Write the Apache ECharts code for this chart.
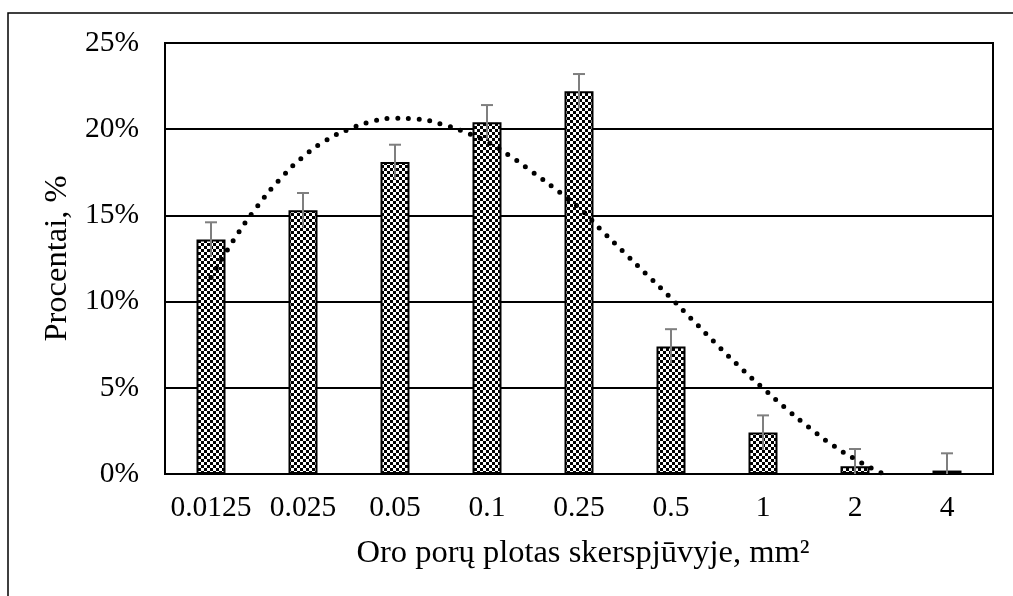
<!DOCTYPE html>
<html>
<head>
<meta charset="utf-8">
<script src="https://cdn.jsdelivr.net/npm/echarts@6/dist/echarts.min.js"></script>
<style>
  html, body { margin: 0; padding: 0; background: #fff; }
  #chart { width: 1013px; height: 596px; }
</style>
</head>
<body>
<div id="chart"></div>
<script>
// Pore area classes (mm²) and share of pores in each class, %
const categories = ['0.0125', '0.025', '0.05', '0.1', '0.25', '0.5', '1', '2', '4'];
const shares = [13.6, 15.3, 18.1, 20.4, 22.2, 7.4, 2.4, 0.45, 0.2];
const errors = [1, 1, 1, 1, 1, 1, 1, 1, 1];

// Polynomial trend curve, sampled along the category index
const trendPos = [0, 0.25, 0.5, 0.75, 1, 1.25, 1.5, 1.75, 2, 2.25, 2.5, 2.75, 3, 3.25, 3.5, 3.75, 4, 4.25, 4.5, 4.75, 5, 5.25, 5.5, 5.75, 6, 6.25, 6.5, 6.75, 7, 7.25, 7.33];
const trendVal = [11.4, 13.6, 15.5, 17.1, 18.4, 19.35, 20.0, 20.45, 20.63, 20.58, 20.3, 19.85, 19.27, 18.45, 17.5, 16.5, 15.45, 14.1, 12.8, 11.5, 10.2, 8.85, 7.5, 6.2, 4.98, 3.8, 2.7, 1.7, 0.87, 0.15, 0];

const yTicks = { min: 0, max: 25, interval: 5 };

// Checkerboard fill for the bars
function checkerPattern(cell) {
  const c = document.createElement('canvas');
  c.width = cell * 2; c.height = cell * 2;
  const g = c.getContext('2d');
  g.fillStyle = '#fff';
  g.fillRect(0, 0, c.width, c.height);
  g.fillStyle = '#000';
  g.fillRect(0, 0, cell, cell);
  g.fillRect(cell, cell, cell, cell);
  return c;
}

const FONT = '"Liberation Serif", "Times New Roman", serif';
const TICK_SIZE = 29.5;
const TITLE_SIZE = 32.5;
const chart = echarts.init(document.getElementById('chart'), null, { renderer: 'canvas' });

chart.setOption({
  animation: false,
  backgroundColor: '#fff',
  graphic: [{
    type: 'rect',
    shape: { x: 8, y: 13, width: 1030, height: 620 },
    style: { fill: 'none', stroke: '#000', lineWidth: 1.5 },
    silent: true
  }],
  grid: { left: 165, top: 43, right: 20, bottom: 122, show: true, borderColor: '#000', borderWidth: 2, backgroundColor: 'transparent' },
  xAxis: [{
    type: 'category',
    data: categories,
    boundaryGap: true,
    name: 'Oro porų plotas skerspjūvyje, mm²',
    nameLocation: 'middle',
    nameGap: 63,
    nameTextStyle: { fontFamily: FONT, fontSize: TITLE_SIZE, color: '#000', padding: [0, 0, 0, 8] },
    axisLine: { lineStyle: { color: '#000', width: 2 } },
    axisTick: { show: false },
    axisLabel: { fontFamily: FONT, fontSize: TICK_SIZE, color: '#000', margin: 19, interval: 0 }
  }, {
    type: 'value',
    min: -0.5, max: 8.5,
    show: false
  }],
  yAxis: {
    type: 'value',
    min: yTicks.min, max: yTicks.max, interval: yTicks.interval,
    name: 'Procentai, %',
    nameLocation: 'middle',
    nameGap: 86,
    nameTextStyle: { fontFamily: FONT, fontSize: TITLE_SIZE, color: '#000' },
    axisLine: { show: true, onZero: false, lineStyle: { color: '#000', width: 2 } },
    axisTick: { show: false },
    axisLabel: { fontFamily: FONT, fontSize: TICK_SIZE, color: '#000', margin: 26, formatter: '{value}%' },
    splitLine: { show: true, lineStyle: { color: '#000', width: 2 } }
  },
  series: [{
    type: 'bar',
    xAxisIndex: 0,
    data: shares,
    barWidth: 29,
    itemStyle: {
      color: { image: checkerPattern(3), repeat: 'repeat' },
      borderColor: '#000',
      borderWidth: 2
    },
    z: 2
  }, {
    type: 'custom',
    xAxisIndex: 0,
    data: shares.map((v, i) => [i, v, errors[i]]),
    renderItem: function (params, api) {
      const x = api.value(0), v = api.value(1), e = api.value(2);
      const hi = api.coord([x, v + e]);
      const lo = api.coord([x, Math.max(v - e, yTicks.min)]);
      const half = 6;
      const st = { stroke: '#7f7f7f', lineWidth: 2 };
      return {
        type: 'group',
        children: [
          { type: 'line', shape: { x1: hi[0], y1: hi[1], x2: lo[0], y2: lo[1] }, style: st },
          { type: 'line', shape: { x1: hi[0] - half, y1: hi[1], x2: hi[0] + half, y2: hi[1] }, style: st }
        ]
      };
    },
    z: 3
  }, {
    type: 'line',
    xAxisIndex: 1,
    data: trendPos.map((p, i) => [p, trendVal[i]]),
    smooth: true,
    showSymbol: false,
    lineStyle: { color: '#000', width: 5, type: [0, 10.7], cap: 'round' },
    z: 4
  }]
});
</script>
</body>
</html>
